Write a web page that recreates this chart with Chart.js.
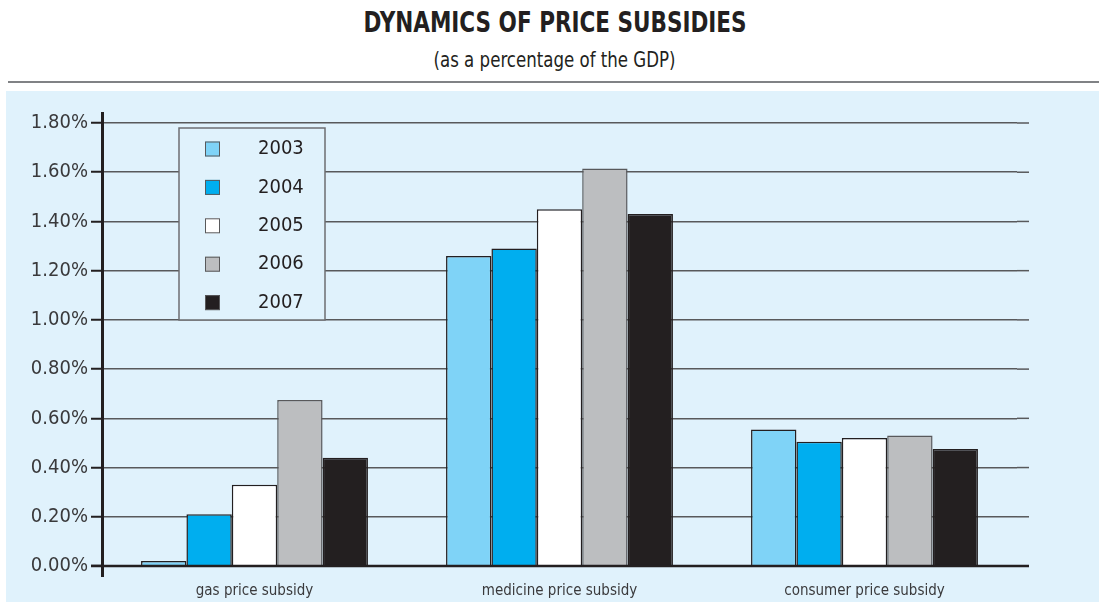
<!DOCTYPE html>
<html lang="en">
<head>
    <meta charset="UTF-8">
    <title>Dynamics of Price Subsidies</title>
    <script src="https://cdn.jsdelivr.net/npm/chart.js"></script>
    <style>
        body { margin: 0; background: #fff; width: 1099px; height: 602px; position: relative; overflow: hidden;
               font-family: "DejaVu Sans Condensed", "Liberation Sans", sans-serif; color: #231f20; }
        .head { position: absolute; left: 0; width: 1110px; text-align: center; }
        .head span { display: inline-block; }
        #title { top: 6px; font-size: 28px; font-weight: bold; }
        #title span { transform: scaleX(0.855); }
        #subtitle { top: 48px; font-size: 21px; }
        #subtitle span { transform: scaleX(0.88); }
        #rule { position: absolute; top: 81px; left: 8px; right: 0; height: 2px; background: #808285; }
        #panel { position: absolute; top: 91px; left: 6px; width: 1093px; height: 511px; background: #e0f2fc; }
    </style>
</head>
<body>
    <div id="title" class="head"><span>DYNAMICS OF PRICE SUBSIDIES</span></div>
    <div id="subtitle" class="head"><span>(as a percentage of the GDP)</span></div>
    <div id="rule"></div>
    <div id="panel"><canvas id="subsidyChart" width="1093" height="511"></canvas></div>

    <script>
        const categories = ['gas price subsidy', 'medicine price subsidy', 'consumer price subsidy'];
        const years = ['2003', '2004', '2005', '2006', '2007'];
        const v2003 = [0.02, 1.26, 0.555];
        const v2004 = [0.21, 1.29, 0.505];
        const v2005 = [0.33, 1.45, 0.52];
        const v2006 = [0.675, 1.615, 0.53];
        const v2007 = [0.44, 1.43, 0.475];
        const yTicks = [0, 0.2, 0.4, 0.6, 0.8, 1.0, 1.2, 1.4, 1.6, 1.8];

        const FONT = '"DejaVu Sans Condensed", "Liberation Sans", sans-serif';
        const INK = '#231f20';
        const PANEL = '#e0f2fc';
        const fills = ['#7fd3f7', '#00aeef', '#ffffff', '#bcbec0', '#231f20'];
        const edges = ['#231f20', '#231f20', '#231f20', '#58595b', '#231f20'];

        // axes lines, gridline stubs past the bars and the boxed legend
        const extras = {
            id: 'extras',
            beforeDatasetsDraw(chart) {
                const c = chart.ctx, a = chart.chartArea, y = chart.scales.y;
                c.save();
                c.strokeStyle = '#58595b';
                c.lineWidth = 1.5;
                yTicks.forEach(t => {
                    const py = y.getPixelForValue(t);
                    c.beginPath(); c.moveTo(a.right, py); c.lineTo(a.right + 12, py); c.stroke();
                });
                c.restore();
            },
            afterDatasetsDraw(chart) {
                const c = chart.ctx, a = chart.chartArea, y = chart.scales.y;
                const y0 = y.getPixelForValue(0);
                c.save();
                c.strokeStyle = INK;
                c.lineWidth = 2.5;
                c.beginPath(); c.moveTo(a.left - 11, y0); c.lineTo(a.right + 12, y0); c.stroke();
                c.lineWidth = 3;
                c.beginPath(); c.moveTo(a.left + 0.5, a.top - 11); c.lineTo(a.left + 0.5, y0 + 11); c.stroke();

                // legend box
                const bx = 173, by = 37, bw = 146, bh = 192;
                c.fillStyle = PANEL;
                c.fillRect(bx, by, bw, bh);
                c.strokeStyle = '#6d6e71';
                c.lineWidth = 1.5;
                c.strokeRect(bx, by, bw, bh);
                c.font = '20px ' + FONT;
                c.textBaseline = 'middle';
                chart.data.datasets.forEach((ds, i) => {
                    const cy = 58 + i * 38.4;
                    c.fillStyle = ds.backgroundColor;
                    c.fillRect(199, cy - 7.5, 15, 15);
                    c.strokeStyle = '#58595b';
                    c.lineWidth = 1;
                    c.strokeRect(199.5, cy - 7, 14, 14);
                    c.fillStyle = INK;
                    c.fillText(ds.label, 252, cy);
                });
                c.restore();
            }
        };

        const series = [v2003, v2004, v2005, v2006, v2007];
        const ctx = document.getElementById('subsidyChart').getContext('2d');
        const chart = new Chart(ctx, {
            type: 'bar',
            data: {
                labels: categories,
                datasets: years.map((yr, i) => ({
                    label: yr,
                    data: series[i],
                    backgroundColor: fills[i],
                    borderColor: edges[i],
                    borderWidth: 1.5,
                    categoryPercentage: 0.744,
                    barPercentage: 1.0
                }))
            },
            options: {
                responsive: false,
                animation: false,
                layout: { padding: { left: 0, top: 32, right: 82, bottom: 0 } },
                plugins: {
                    legend: { display: false },
                    tooltip: { enabled: false }
                },
                scales: {
                    x: {
                        grid: { display: false, drawTicks: false },
                        border: { display: false },
                        ticks: { color: '#3a3a3c', font: { family: FONT, size: 15 }, padding: 16 },
                        afterFit: s => { s.height = 36; }
                    },
                    y: {
                        min: 0,
                        max: 1.8,
                        afterBuildTicks: s => { s.ticks = yTicks.map(v => ({ value: v })); },
                        grid: { color: '#58595b', lineWidth: 1.5, tickLength: 11, tickColor: INK, tickWidth: 2 },
                        border: { display: false },
                        ticks: {
                            color: '#3a3a3c',
                            padding: 3,
                            font: { family: FONT, size: 20 },
                            callback: v => v.toFixed(2) + '%'
                        },
                        afterFit: s => { s.width = 96; }
                    }
                }
            },
            plugins: [extras]
        });
    </script>
</body>
</html>
